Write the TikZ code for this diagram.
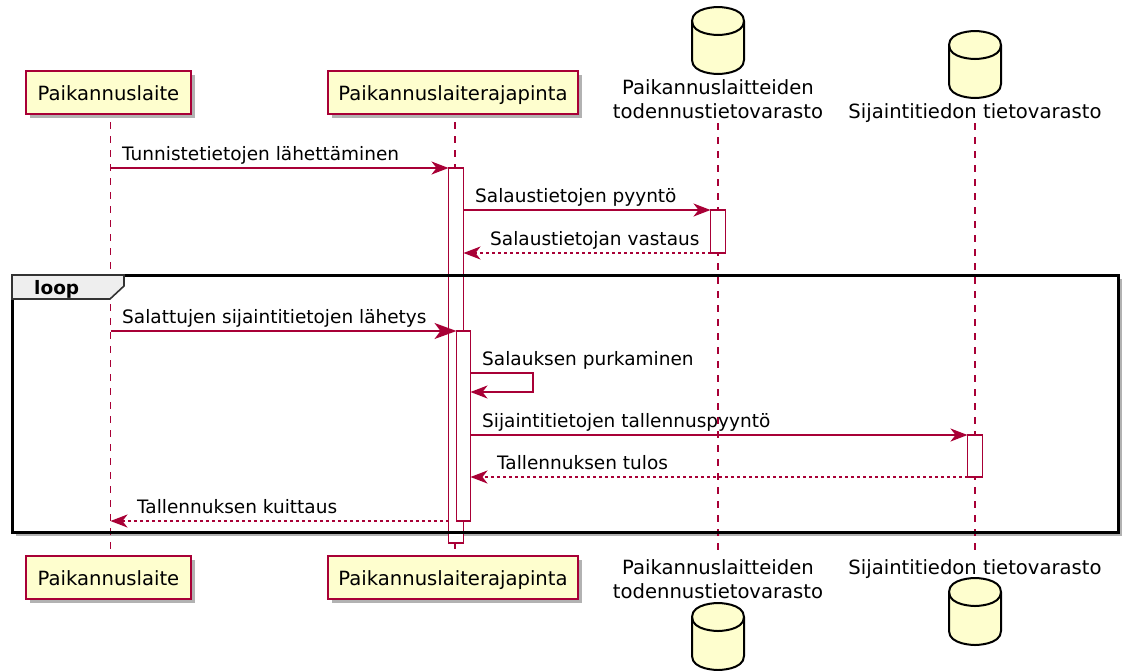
\documentclass[tikz,border=0pt]{standalone}
\usepackage{fontspec}
\setmainfont{DejaVu Sans}
\usetikzlibrary{arrows.meta,shadows}
\definecolor{plred}{HTML}{A80036}
\definecolor{plfill}{HTML}{FEFECE}
\definecolor{tabgray}{HTML}{EEEEEE}
\begin{document}
\begin{tikzpicture}[x=1pt,y=-1pt,
  partbox/.style={draw=plred, fill=plfill, line width=2pt, inner sep=0pt, outer sep=0pt,
    minimum height=43pt, text height=20.4pt, text depth=4pt,
    font=\fontsize{19.6}{23}\selectfont,
    drop shadow={shadow xshift=4pt, shadow yshift=-4pt, fill=black, opacity=0.3}},
  dblabel/.style={inner sep=0pt, font=\fontsize{19.6}{23}\selectfont},
  msglabel/.style={inner sep=0pt, anchor=base west, font=\fontsize{18.5}{22}\selectfont},
  lifeline/.style={draw=plred, line width=1.4pt, dash pattern=on 7pt off 7pt},
  actbox/.style={draw=plred, fill=white, line width=1.4pt, inner sep=0pt, outer sep=0pt,
    minimum width=15pt, anchor=north west},
  msg/.style={draw=plred, line width=1.4pt, -{Stealth[length=17pt, width=13pt, inset=5pt]}},
  bigmsg/.style={draw=plred, line width=1.4pt, -{Stealth[length=22pt, width=16pt, inset=6pt]}},
  reply/.style={msg, dash pattern=on 3pt off 3pt},
  dbline/.style={draw=black, fill=plfill, line width=2pt},
  loopbg/.style={fill=white, inner sep=0pt, outer sep=0pt, anchor=north west,
    drop shadow={shadow xshift=4pt, shadow yshift=-4pt, fill=black, opacity=0.3}},
  loopframe/.style={draw=black, line width=3pt, inner sep=0pt, outer sep=0pt, anchor=north west},
  looptab/.style={draw=black!80, fill=tabgray, line width=1.6pt},
  looplabel/.style={inner sep=0pt, anchor=base west, font=\fontsize{18.5}{22}\selectfont\bfseries},
  dbcyl/.pic={
    \draw[dbline] (0,14) .. controls (0,0) and (26,0) .. (26,0)
      .. controls (26,0) and (52,0) .. (52,14) -- (52,53)
      .. controls (52,67) and (26,67) .. (26,67)
      .. controls (26,67) and (0,67) .. (0,53) -- cycle;
    \draw[dbline, fill=none] (0,14) .. controls (0,28) and (26,28) .. (26,28)
      .. controls (26,28) and (52,28) .. (52,14);
  }
]
\useasboundingbox (0,0) rectangle (1122,670);

% loop background with shadow
\node[loopbg, minimum width=1106pt, minimum height=257pt] (loopback) at (12,275) {};

% participants (top)
\node[partbox, minimum width=165pt] (p1top) at (108.5,92.5) {Paikannuslaite};
\node[partbox, minimum width=250pt] (p2top) at (453,92.5) {Paikannuslaiterajapinta};
\pic at (692,7) {dbcyl};
\node[dblabel, anchor=base] (db1top) at (718,94) {Paikannuslaitteiden};
\node[dblabel, anchor=base] (db1topb) at (718,118) {todennustietovarasto};
\pic at (949,31) {dbcyl};
\node[dblabel, anchor=base] (db2top) at (975,118) {Sijaintitiedon tietovarasto};

% participants (bottom)
\node[partbox, minimum width=165pt] (p1bot) at (108.5,577) {Paikannuslaite};
\node[partbox, minimum width=250pt] (p2bot) at (453,577) {Paikannuslaiterajapinta};
\node[dblabel, anchor=base] (db1bot) at (718,574) {Paikannuslaitteiden};
\node[dblabel, anchor=base] (db1botb) at (718,598) {todennustietovarasto};
\pic at (692,603) {dbcyl};
\node[dblabel, anchor=base] (db2bot) at (975,574) {Sijaintitiedon tietovarasto};
\pic at (949,578) {dbcyl};

% lifelines
\draw[lifeline] ([xshift=2pt,yshift=-8pt]p1top.south) -- ([xshift=2pt]p1bot.north);
\draw[lifeline] ([xshift=2pt,yshift=-8pt]p2top.south) -- ([xshift=2pt]p2bot.north);
\draw[lifeline] ([yshift=-5pt]db1topb.base) -- ([yshift=21pt]db1bot.base);
\draw[lifeline] ([yshift=-5pt]db2top.base) -- ([yshift=21pt]db2bot.base);

% activations
\node[actbox, minimum height=375pt] (a2) at (448.5,168) {};
\node[actbox, minimum height=43pt] (a3) at (710.5,210) {};
\node[actbox, minimum width=14pt, minimum height=190pt] (a2b) at (456.5,331) {};
\node[actbox, minimum height=42pt] (a4) at (967.5,435) {};

% loop frame
\node[loopframe, minimum width=1106pt, minimum height=257pt] (loop) at (12,275) {};
\draw[looptab] (loop.north west) -- ++(112,0) -- ++(0,11) -- ++(-14,13) -- ++(-98,0) -- cycle;
\node[looplabel] (looptxt) at (34,294) {loop};

% messages
\coordinate (m1s) at (110.5,168);
\draw[msg] (m1s) -- (a2.north west);
\node[msglabel] (t1) at (122,160) {Tunnistetietojen lähettäminen};

\coordinate (m2s) at (463.5,210);
\draw[msg] (m2s) -- (a3.north west);
\node[msglabel] (t2) at (475,202) {Salaustietojen pyyntö};

\coordinate (m3e) at (463.5,253);
\draw[reply] (a3.south west) -- (m3e);
\node[msglabel] (t3) at (490,245) {Salaustietojan vastaus};

\coordinate (m4s) at (110.5,331);
\draw[bigmsg] (m4s) -- (a2b.north west);
\node[msglabel] (t4) at (122,323) {Salattujen sijaintitietojen lähetys};

\coordinate (m5a) at (470.5,373);
\coordinate (m5b) at (533,373);
\coordinate (m5c) at (533,392);
\coordinate (m5d) at (470.5,392);
\draw[msg] (m5a) -- (m5b) -- (m5c) -- (m5d);
\node[msglabel] (t5) at (482,365) {Salauksen purkaminen};

\coordinate (m6s) at (470.5,435);
\draw[msg] (m6s) -- (a4.north west);
\node[msglabel] (t6) at (482,427) {Sijaintitietojen tallennuspyyntö};

\coordinate (m7e) at (470.5,477);
\draw[reply] (a4.south west) -- (m7e);
\node[msglabel] (t7) at (497,469) {Tallennuksen tulos};

\coordinate (m8s) at (448.5,521);
\coordinate (m8e) at (110.5,521);
\draw[reply] (m8s) -- (m8e);
\node[msglabel] (t8) at (137,513) {Tallennuksen kuittaus};
\end{tikzpicture}
\end{document}
